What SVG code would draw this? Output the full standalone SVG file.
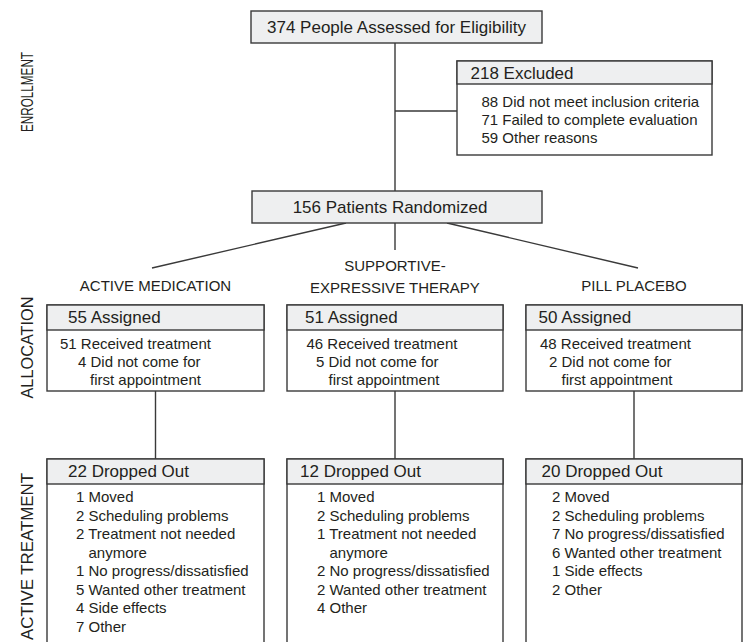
<svg xmlns="http://www.w3.org/2000/svg" width="751" height="642" viewBox="0 0 751 642">
<style>
text{font-family:"Liberation Sans",Arial,sans-serif;fill:#231f20}
.h{font-size:17px}
.b{font-size:15px}
.lab{font-size:15px}
.side{font-size:17px}
.box{fill:#fff;stroke:#3a3a3a;stroke-width:1.4}
.hd{fill:#eeeff0;stroke:#3a3a3a;stroke-width:1.4}
.ln{stroke:#3a3a3a;stroke-width:1.4;fill:none}
</style>
<rect width="751" height="642" fill="#fff"/>
<g id="side-labels">
<text class="side" transform="translate(33,92) rotate(-90)" text-anchor="middle" textLength="80" lengthAdjust="spacingAndGlyphs">ENROLLMENT</text>
<text class="side" transform="translate(33,347.5) rotate(-90)" text-anchor="middle" textLength="102" lengthAdjust="spacingAndGlyphs">ALLOCATION</text>
<text class="side" transform="translate(33,556.5) rotate(-90)" text-anchor="middle" textLength="167" lengthAdjust="spacingAndGlyphs">ACTIVE  TREATMENT</text>
</g>
<g id="connectors">
<path class="ln" d="M395 43V191M395 111H457M395 223V250M346 223L152 268M447 223L638 268M155.5 391V459M395 391V459M634 391V459"/>
</g>
<g id="assessed">
<rect class="hd" x="251" y="11" width="291" height="32"/>
<text class="h" x="396.5" y="33" text-anchor="middle">374 People Assessed for Eligibility</text>
</g>
<g id="excluded">
<rect class="box" x="457" y="61" width="255" height="94"/>
<rect class="hd" x="457" y="61" width="255" height="23"/>
<text class="h" x="470.5" y="79">218 Excluded</text>
<text class="b" x="481.5" y="107">88 Did not meet inclusion criteria</text>
<text class="b" x="481.5" y="125">71 Failed to complete evaluation</text>
<text class="b" x="481.5" y="143">59 Other reasons</text>
</g>
<g id="randomized">
<rect class="hd" x="252" y="191" width="290" height="32"/>
<text class="h" x="390" y="213" text-anchor="middle">156 Patients Randomized</text>
</g>
<g id="arm-labels">
<text class="lab" x="155.5" y="291" text-anchor="middle">ACTIVE MEDICATION</text>
<text class="lab" x="395" y="271" text-anchor="middle">SUPPORTIVE-</text>
<text class="lab" x="395" y="293" text-anchor="middle">EXPRESSIVE THERAPY</text>
<text class="lab" x="634" y="291" text-anchor="middle">PILL PLACEBO</text>
</g>
<g id="alloc-active">
<rect class="box" x="47" y="305" width="217" height="86"/>
<rect class="hd" x="47" y="305" width="217" height="25"/>
<text class="h" x="68" y="323">55 Assigned</text>
<text class="b" x="60" y="349">51 Received treatment</text>
<text class="b" x="78" y="367">4 Did not come for</text>
<text class="b" x="90" y="384.5">first appointment</text>
</g>
<g id="alloc-supportive">
<rect class="box" x="287" y="305" width="216" height="86"/>
<rect class="hd" x="287" y="305" width="216" height="25"/>
<text class="h" x="305" y="323">51 Assigned</text>
<text class="b" x="306.5" y="349">46 Received treatment</text>
<text class="b" x="316" y="367">5 Did not come for</text>
<text class="b" x="328.5" y="384.5">first appointment</text>
</g>
<g id="alloc-placebo">
<rect class="box" x="526" y="305" width="216" height="86"/>
<rect class="hd" x="526" y="305" width="216" height="25"/>
<text class="h" x="538.5" y="323">50 Assigned</text>
<text class="b" x="540" y="349">48 Received treatment</text>
<text class="b" x="549" y="367">2 Did not come for</text>
<text class="b" x="561.5" y="384.5">first appointment</text>
</g>
<g id="drop-active">
<rect class="box" x="47" y="459" width="217" height="200"/>
<rect class="hd" x="47" y="459" width="217" height="25"/>
<text class="h" x="68" y="477">22 Dropped Out</text>
<text class="b" x="76" y="502">1 Moved</text>
<text class="b" x="76" y="520.5">2 Scheduling problems</text>
<text class="b" x="76" y="539">2 Treatment not needed</text>
<text class="b" x="88.5" y="557.5">anymore</text>
<text class="b" x="76" y="576">1 No progress/dissatisfied</text>
<text class="b" x="76" y="594.5">5 Wanted other treatment</text>
<text class="b" x="76" y="613">4 Side effects</text>
<text class="b" x="76" y="631.5">7 Other</text>
</g>
<g id="drop-supportive">
<rect class="box" x="287" y="459" width="216" height="200"/>
<rect class="hd" x="287" y="459" width="216" height="25"/>
<text class="h" x="300" y="477">12 Dropped Out</text>
<text class="b" x="317" y="502">1 Moved</text>
<text class="b" x="317" y="520.5">2 Scheduling problems</text>
<text class="b" x="317" y="539">1 Treatment not needed</text>
<text class="b" x="329.5" y="557.5">anymore</text>
<text class="b" x="317" y="576">2 No progress/dissatisfied</text>
<text class="b" x="317" y="594.5">2 Wanted other treatment</text>
<text class="b" x="317" y="613">4 Other</text>
</g>
<g id="drop-placebo">
<rect class="box" x="526" y="459" width="216" height="200"/>
<rect class="hd" x="526" y="459" width="216" height="25"/>
<text class="h" x="541.5" y="477">20 Dropped Out</text>
<text class="b" x="552" y="502">2 Moved</text>
<text class="b" x="552" y="520.5">2 Scheduling problems</text>
<text class="b" x="552" y="539">7 No progress/dissatisfied</text>
<text class="b" x="552" y="557.5">6 Wanted other treatment</text>
<text class="b" x="552" y="576">1 Side effects</text>
<text class="b" x="552" y="594.5">2 Other</text>
</g>
</svg>
